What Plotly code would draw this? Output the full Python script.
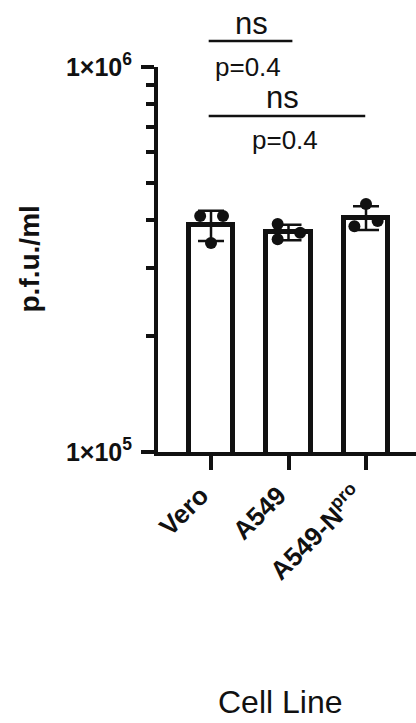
import plotly.graph_objects as go

# ---- data ----
categories = ["Vero", "A549", "A549-N<sup>pro</sup>"]
means = [3.88e5, 3.72e5, 4.06e5]
sds = [0.35e5, 0.17e5, 0.29e5]
replicates = [
    [4.10e5, 4.10e5, 3.49e5],
    [3.91e5, 3.57e5, 3.71e5],
    [4.41e5, 3.86e5, 3.98e5],
]
jitter = [
    [-0.14, 0.155, 0.0],
    [-0.14, -0.14, 0.15],
    [0.0, -0.15, 0.15],
]
comparisons = [(0, 1, "ns", "p=0.4"), (0, 2, "ns", "p=0.4")]
y_ticks_major = [1e5, 1e6]
y_tick_labels = ["1×10<sup>5</sup>", "1×10<sup>6</sup>"]
y_ticks_minor = [2e5, 3e5, 4e5, 5e5, 6e5, 7e5, 8e5, 9e5]

FONT = "Liberation Sans, Arial, sans-serif"
xs = list(range(len(categories)))

fig = go.Figure()
fig.add_trace(go.Bar(
    x=xs, y=means, width=0.58,
    marker=dict(color="white", line=dict(color="#111111", width=5)),
    error_y=dict(type="data", array=sds, visible=True, color="#111111",
                 thickness=2.5, width=13),
    showlegend=False,
))
for i, reps in enumerate(replicates):
    fig.add_trace(go.Scatter(
        x=[i + j for j in jitter[i]], y=reps, mode="markers",
        marker=dict(color="#111111", size=12),
        showlegend=False, cliponaxis=False,
    ))

# significance brackets
line_y = [1.0675, 0.873]
ns_y = [1.114, 0.922]
p_y = [1.0, 0.810]
for k, (a, b, ns, p) in enumerate(comparisons):
    fig.add_shape(type="line", xref="x", yref="paper",
                  x0=a - 0.03, x1=b + 0.05 if k == 0 else b - 0.01,
                  y0=line_y[k], y1=line_y[k],
                  line=dict(color="#111111", width=2.5))
    mid = (a + b) / 2
    fig.add_annotation(x=mid + (0.02 if k == 0 else -0.08), y=ns_y[k], xref="x", yref="paper",
                       text=ns, showarrow=False, yanchor="middle",
                       font=dict(family=FONT, size=31, color="#111111"))
    fig.add_annotation(x=mid - 0.02 if k == 0 else mid - 0.04, y=p_y[k], xref="x", yref="paper",
                       text=p, showarrow=False, yanchor="middle",
                       font=dict(family=FONT, size=26, color="#111111"))

# axis titles
fig.add_annotation(x=-0.5, y=0.5, xref="paper", yref="paper", text="<b>p.f.u./ml</b>",
                   textangle=-90, showarrow=False, xanchor="center", yanchor="middle",
                   font=dict(family=FONT, size=28, color="#111111"))
fig.add_annotation(x=0.473, y=-0.649, xref="paper", yref="paper", text="Cell Line",
                   showarrow=False, xanchor="center", yanchor="middle",
                   font=dict(family=FONT, size=32, color="#111111"))

fig.update_layout(
    width=416, height=723,
    margin=dict(l=158, r=0, t=67, b=271),
    paper_bgcolor="white", plot_bgcolor="white",
    bargap=0,
    xaxis=dict(
        range=[-0.684, 2.645], tickmode="array", tickvals=xs, ticktext=categories,
        tickangle=-45, ticks="outside", ticklen=14, tickwidth=3.5, tickcolor="#111111",
        showline=True, linewidth=4, linecolor="#111111", showgrid=False, zeroline=False,
        automargin=False, ticklabelshift=-10,
        tickfont=dict(family=FONT, size=26, color="#111111", weight="bold"),
    ),
    yaxis=dict(
        type="log", range=[5, 6], tickmode="array", tickvals=y_ticks_major,
        ticktext=y_tick_labels, ticks="outside", ticklen=13, tickwidth=3.5,
        tickcolor="#111111", showline=True, linewidth=4, linecolor="#111111",
        showgrid=False, zeroline=False, automargin=False, ticklabelstandoff=4,
        tickfont=dict(family=FONT, size=25, color="#111111", weight="bold"),
        minor=dict(tickmode="array", tickvals=y_ticks_minor, ticks="outside",
                   ticklen=8, tickwidth=3.5, tickcolor="#111111", showgrid=False),
    ),
)

fig.write_html("out.html", config={"displayModeBar": False},
               post_script="document.body.style.margin='0px';")
